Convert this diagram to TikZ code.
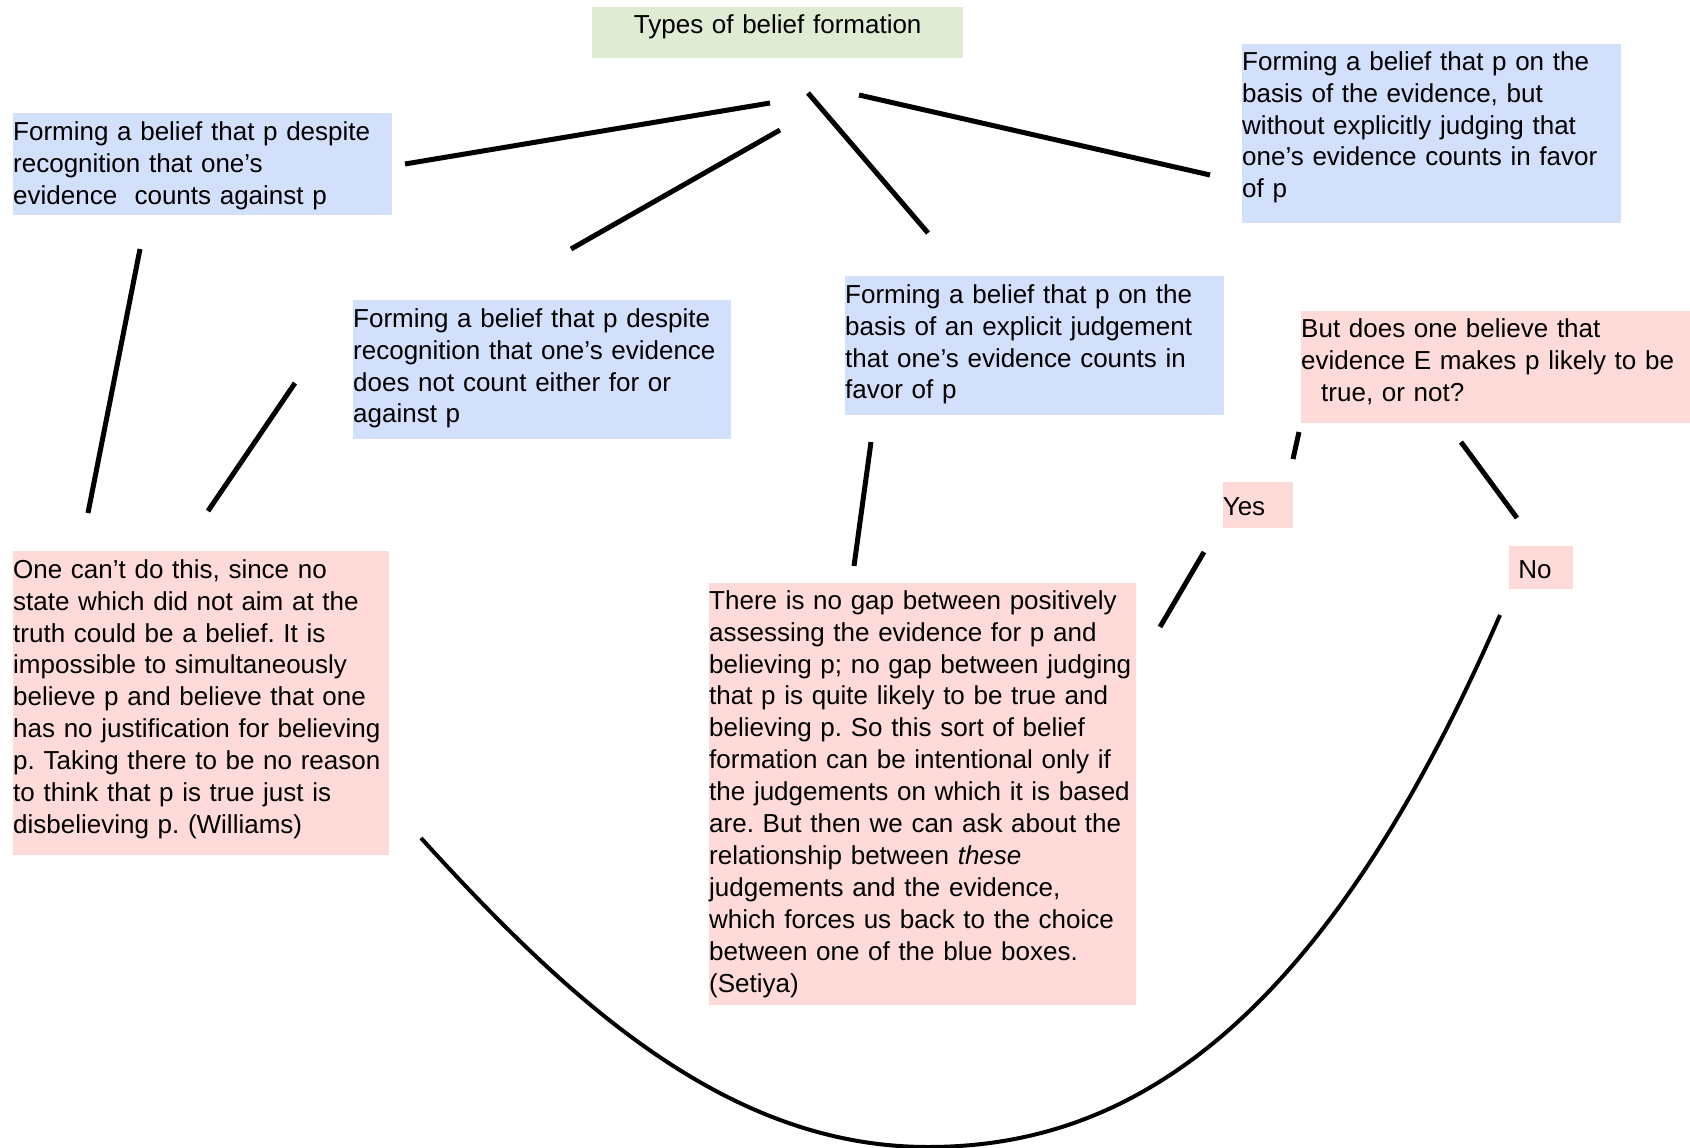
\documentclass[tikz,border=0pt]{standalone}
\usepackage{fontspec}
\setmainfont{Liberation Sans}
\usetikzlibrary{positioning}
\definecolor{beliefblue}{RGB}{210,224,251}
\definecolor{beliefred}{RGB}{254,218,217}
\definecolor{beliefgreen}{RGB}{224,235,212}
\frenchspacing
\hyphenpenalty=10000
\tikzset{
    %Define standard text
    every node/.style={font=\fontsize{26}{31.9}\selectfont},
    %Define style for boxes
    box/.style={
           fill=beliefblue,
           anchor=north west,
           inner sep=0pt,
           text width=379pt,
           text height=27pt,
           align=left},
    redbox/.style={
           box,
           fill=beliefred},
    headbox/.style={
           box,
           fill=beliefgreen,
           align=center},
    % Define line styles
    link/.style={
           line width=5pt},
    bigarc/.style={
           line width=4pt}
}
\begin{document}
\begin{tikzpicture}[x=1pt,y=-1pt]
  \useasboundingbox (0,0) rectangle (1690,1148);
  \node[headbox, text width=371pt, text height=26pt, text depth=25pt] (types) at (592,7) {Types of belief formation};
  \node[box, text depth=75pt] (against) at (13,113) {Forming a belief that p despite\\recognition that one’s\\evidence\ \ counts against p};
  \node[box, text width=378pt, text depth=112pt] (neither) at (353,300) {Forming a belief that p despite\\recognition that one’s evidence\\does not count either for or\\against p};
  \node[box, text depth=112pt] (explicit) at (845,276) {Forming a belief that p on the\\basis of an explicit judgement\\that one’s evidence counts in\\favor of p};
  \node[box, text height=26pt, text depth=153pt] (implicit) at (1242,44) {Forming a belief that p on the\\basis of the evidence, but\\without explicitly judging that\\one’s evidence counts in favor\\of p};
  \node[redbox, text width=389pt, text height=26pt, text depth=86pt] (question) at (1301,311) {But does one believe that\\evidence E makes p likely to be\\\hspace*{20pt}true, or not?};
  \node[redbox, text width=70pt, text height=34pt, text depth=12pt, below left=58pt and 8pt of question.south west] (yes) {Yes};
  \node[redbox, text width=64pt, text height=33pt, text depth=10pt, below right=122pt and 13.5pt of question.south] (no) {\hspace*{9pt}No};
  \node[redbox, text width=376pt, text height=27pt, text depth=277pt] (williams) at (13,551) {One can’t do this, since no\\state which did not aim at the\\truth could be a belief. It is\\impossible to simultaneously\\believe p and believe that one\\has no justification for believing\\p. Taking there to be no reason\\to think that p is true just is\\disbelieving p. (Williams)};
  \node[redbox, text width=427pt, text height=26pt, text depth=396pt] (setiya) at (709,583) {There is no gap between positively\\assessing the evidence for p and\\believing p; no gap between judging\\that p is quite likely to be true and\\believing p. So this sort of belief\\formation can be intentional only if\\the judgements on which it is based\\are. But then we can ask about the\\relationship between \textit{these}\\judgements and the evidence,\\which forces us back to the choice\\between one of the blue boxes.\\(Setiya)};

  % line ends, kept clear of the boxes
  \coordinate (types-a) at (770,103);
  \coordinate (types-b) at (780,130);
  \coordinate (types-c) at (808,93);
  \coordinate (types-d) at (859,95);
  \coordinate (against-t) at (405,164);
  \coordinate (neither-t) at (571,249);
  \coordinate (explicit-t) at (928,233);
  \coordinate (implicit-t) at (1210,175);
  \coordinate (against-b) at (140,249);
  \coordinate (neither-b) at (295,383);
  \coordinate (williams-a) at (88,513);
  \coordinate (williams-b) at (208,511);
  \coordinate (williams-r) at (421,838);
  \coordinate (explicit-b) at (871,442);
  \coordinate (setiya-t) at (854,566);
  \coordinate (setiya-r) at (1160,627);
  \coordinate (question-y) at (1299,432);
  \coordinate (question-n) at (1461,442);
  \coordinate (yes-t) at (1293,459);
  \coordinate (yes-b) at (1204,552);
  \coordinate (no-t) at (1517,518);
  \coordinate (no-b) at (1500,615);
  \coordinate (bottom) at (928,1147);

  \draw[link] (types-a) -- (against-t);
  \draw[link] (types-b) -- (neither-t);
  \draw[link] (types-c) -- (explicit-t);
  \draw[link] (types-d) -- (implicit-t);
  \draw[link] (against-b) -- (williams-a);
  \draw[link] (neither-b) -- (williams-b);
  \draw[link] (explicit-b) -- (setiya-t);
  \draw[link] (question-y) -- (yes-t);
  \draw[link] (yes-b) -- (setiya-r);
  \draw[link] (question-n) -- (no-t);
  \draw[bigarc] (williams-r) .. controls (571,1003) and (728,1147) .. (bottom)
    .. controls (1128,1147) and (1320,1029) .. (no-b);
\end{tikzpicture}
\end{document}
